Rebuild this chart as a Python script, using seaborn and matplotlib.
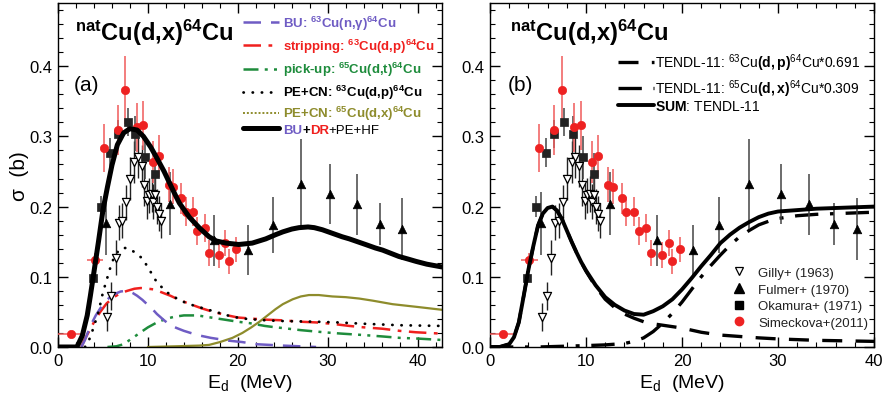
import matplotlib
matplotlib.use("Agg")
import matplotlib.pyplot as plt
import seaborn as sns
from matplotlib.lines import Line2D
from matplotlib.legend import Legend
from matplotlib.ticker import MultipleLocator, FormatStrFormatter

# ---------------- experimental data ----------------
sim_E = [1.4, 4.1, 5.1, 6.7, 7.5, 8.8, 9.5, 10.6, 11.2, 12.3, 12.8, 13.7, 14.2, 15.0, 15.5, 16.3, 16.8, 17.9, 18.6, 19.0, 19.8]
sim_s = [0.019, 0.124, 0.283, 0.309, 0.366, 0.313, 0.316, 0.263, 0.272, 0.231, 0.228, 0.212, 0.193, 0.193, 0.165, 0.170, 0.134, 0.131, 0.148, 0.122, 0.139]
sim_dE = [1.4, 0.85, 0.35, 0.35, 0.3, 0.3, 0.3, 0.3, 0.3, 0.3, 0.3, 0.3, 0.3, 0.3, 0.3, 0.3, 0.3, 0.3, 0.3, 0.3, 0.3]
sim_ds = [0.002, 0.01, 0.034, 0.035, 0.048, 0.035, 0.035, 0.03, 0.03, 0.025, 0.025, 0.022, 0.02, 0.02, 0.02, 0.02, 0.018, 0.018, 0.018, 0.018, 0.018]

oka_E = [3.9, 4.75, 5.8, 6.65, 7.75, 8.6, 9.7, 10.8]
oka_s = [0.098, 0.200, 0.277, 0.304, 0.320, 0.304, 0.270, 0.246]
oka_ds = [0.01, 0.015, 0.02, 0.02, 0.02, 0.025, 0.03, 0.03]

gil_E = [5.4, 5.9, 6.4, 6.8, 7.15, 7.6, 8.0, 8.5, 8.9, 9.3, 9.6, 9.9, 10.1, 10.4, 10.6, 10.8, 11.0, 11.2, 11.5]
gil_s = [0.043, 0.072, 0.127, 0.177, 0.180, 0.206, 0.240, 0.263, 0.271, 0.258, 0.231, 0.208, 0.216, 0.218, 0.207, 0.217, 0.200, 0.190, 0.180]
gil_ds = [0.02, 0.02, 0.025, 0.025, 0.025, 0.025, 0.03, 0.03, 0.03, 0.03, 0.03, 0.025, 0.025, 0.025, 0.025, 0.025, 0.025, 0.025, 0.025]

ful_E = [5.3, 12.5, 17.4, 21.1, 23.9, 27.0, 30.3, 33.2, 35.8, 38.2]
ful_s = [0.176, 0.204, 0.152, 0.138, 0.174, 0.232, 0.218, 0.203, 0.175, 0.168]
ful_ds = [0.045, 0.045, 0.036, 0.036, 0.04, 0.064, 0.043, 0.043, 0.03, 0.044]

# ---------------- model curves, panel (a) ----------------
tot_E = [0, 1.5, 2.1, 2.7, 3.25, 3.6, 4.0, 4.5, 5.0, 5.5, 6.0, 6.6, 7.3, 8.0, 8.8, 9.5, 10.3, 11.0, 11.8, 12.5, 13.1, 13.5, 14.6, 15.7, 16.8, 17.6, 18.7, 20.1, 21.6, 23.1, 24.2, 25.0, 26.0, 26.8, 27.8, 28.5, 29.4, 30.5, 31.6, 32.4, 34.2, 35.3, 36.1, 37.9, 39.0, 39.8, 41.0, 42.7]
tot_s = [0, 0, 0.0, 0.016, 0.045, 0.073, 0.107, 0.15, 0.195, 0.228, 0.259, 0.288, 0.305, 0.311, 0.309, 0.300, 0.285, 0.269, 0.25, 0.231, 0.215, 0.205, 0.185, 0.17, 0.157, 0.151, 0.148, 0.146, 0.148, 0.154, 0.16, 0.164, 0.168, 0.170, 0.171, 0.170, 0.167, 0.162, 0.157, 0.154, 0.146, 0.141, 0.138, 0.129, 0.125, 0.122, 0.118, 0.114]

bu_E = [2.6, 3.0, 3.6, 4.2, 4.7, 5.3, 5.85, 6.4, 6.95, 7.5, 7.8, 8.3, 8.8, 9.4, 9.9, 10.5, 11.0, 11.8, 12.5, 13.2, 14.0, 15.5, 17.0, 19.0, 20.5, 22.0, 25.0, 28.7]
bu_s = [0.0, 0.01, 0.03, 0.045, 0.055, 0.065, 0.072, 0.076, 0.079, 0.080, 0.080, 0.077, 0.073, 0.067, 0.061, 0.054, 0.047, 0.038, 0.031, 0.027, 0.023, 0.017, 0.013, 0.009, 0.007, 0.004, 0.002, 0.0]

st_E = [2.6, 2.9, 3.6, 4.2, 4.7, 5.4, 6.2, 7.0, 7.7, 8.5, 9.2, 10.0, 10.7, 11.5, 12.5, 13.5, 14.7, 16.0, 17.0, 18.5, 20.0, 21.0, 23.0, 25.0, 27.0, 28.7, 30.5, 32.4, 34.0, 36.1, 38.0, 39.8, 42.7]
st_s = [0.0, 0.009, 0.026, 0.04, 0.05, 0.062, 0.071, 0.077, 0.080, 0.083, 0.084, 0.083, 0.082, 0.078, 0.073, 0.067, 0.061, 0.055, 0.051, 0.046, 0.042, 0.041, 0.039, 0.038, 0.036, 0.035, 0.033, 0.030, 0.028, 0.026, 0.023, 0.021, 0.019]

pu_E = [5.5, 6.5, 7.3, 8.2, 9.2, 10.0, 11.0, 12.0, 12.9, 14.0, 14.7, 15.5, 17.0, 18.5, 20.0, 21.3, 23.0, 24.2, 25.0, 27.0, 28.7, 30.5, 31.6, 34.0, 36.1, 38.0, 40.0, 42.7]
pu_s = [0.0, 0.001, 0.004, 0.012, 0.021, 0.028, 0.035, 0.040, 0.043, 0.045, 0.045, 0.045, 0.042, 0.039, 0.036, 0.034, 0.030, 0.028, 0.027, 0.024, 0.022, 0.020, 0.019, 0.017, 0.015, 0.013, 0.012, 0.010]

pe63_E = [3.0, 3.3, 3.7, 4.0, 4.4, 4.7, 5.0, 5.4, 6.0, 6.6, 7.1, 7.7, 8.4, 9.4, 10.3, 11.0, 12.1, 13.6, 15.1, 17.0, 19.4, 21.0, 23.1, 25.0, 28.7, 31.1, 34.2, 38.0, 42.7]
pe63_s = [0.0, 0.005, 0.018, 0.030, 0.045, 0.061, 0.078, 0.095, 0.121, 0.135, 0.141, 0.141, 0.136, 0.126, 0.107, 0.092, 0.078, 0.066, 0.059, 0.052, 0.043, 0.040, 0.038, 0.037, 0.036, 0.035, 0.033, 0.031, 0.030]

pe65_E = [10.0, 13.0, 15.7, 16.8, 18.0, 19.4, 20.5, 21.5, 22.4, 23.1, 24.2, 25.0, 26.1, 27.0, 27.9, 29.0, 30.5, 32.0, 33.5, 35.0, 37.2, 40.0, 42.7]
pe65_s = [0.0, 0.001, 0.002, 0.003, 0.007, 0.013, 0.020, 0.028, 0.036, 0.043, 0.054, 0.061, 0.068, 0.072, 0.074, 0.074, 0.072, 0.071, 0.069, 0.066, 0.061, 0.057, 0.053]

# ---------------- model curves, panel (b) ----------------
sum_E = [0, 1.0, 2.0, 2.5, 3.0, 3.5, 4.0, 4.5, 5.0, 5.5, 6.0, 6.5, 7.0, 7.5, 8.0, 8.5, 9.0, 9.5, 10.0, 11.0, 12.0, 13.0, 14.0, 15.0, 16.0, 17.0, 18.0, 19.0, 20.0, 21.0, 22.0, 23.0, 24.0, 25.0, 26.0, 27.0, 28.0, 29.0, 30.0, 31.0, 32.0, 34.0, 36.0, 38.0, 40.0]
sum_s = [0, 0, 0.004, 0.014, 0.035, 0.072, 0.11, 0.143, 0.173, 0.19, 0.198, 0.2, 0.194, 0.182, 0.166, 0.15, 0.135, 0.121, 0.109, 0.088, 0.071, 0.06, 0.052, 0.047, 0.046, 0.051, 0.058, 0.068, 0.082, 0.098, 0.115, 0.131, 0.148, 0.16, 0.170, 0.178, 0.185, 0.19, 0.193, 0.194, 0.195, 0.197, 0.198, 0.199, 0.2]

dp_E = [0, 1.0, 2.0, 2.5, 3.0, 3.5, 4.0, 4.5, 5.0, 5.5, 6.0, 6.5, 7.0, 7.5, 8.0, 8.5, 9.0, 9.5, 10.0, 11.0, 12.0, 13.0, 14.0, 15.0, 16.0, 17.0, 18.0, 19.0, 20.0, 22.0, 24.0, 26.0, 28.0, 30.0, 32.0, 34.0, 36.0, 38.0, 40.0]
dp_s = [0, 0, 0.004, 0.014, 0.035, 0.072, 0.11, 0.143, 0.173, 0.19, 0.198, 0.2, 0.194, 0.182, 0.166, 0.15, 0.135, 0.121, 0.108, 0.086, 0.068, 0.056, 0.047, 0.041, 0.036, 0.033, 0.031, 0.029, 0.027, 0.021, 0.017, 0.015, 0.013, 0.0115, 0.0105, 0.0095, 0.009, 0.0085, 0.008]

dx_E = [0, 5, 10, 12, 14, 15, 16, 17, 18, 19, 20, 21, 22, 23, 24, 25, 26, 27, 28, 29, 30, 32, 34, 36, 38, 40]
dx_s = [0, 0, 0.002, 0.003, 0.005, 0.008, 0.013, 0.022, 0.034, 0.048, 0.064, 0.082, 0.1, 0.116, 0.131, 0.145, 0.157, 0.166, 0.174, 0.179, 0.183, 0.187, 0.189, 0.19, 0.191, 0.192]

# ---------------- styling ----------------
sns.set_theme(style="ticks")
plt.rcParams["font.family"] = ["Liberation Sans", "DejaVu Sans"]
plt.rcParams["mathtext.fontset"] = "custom"
plt.rcParams["mathtext.rm"] = "Liberation Sans"
plt.rcParams["mathtext.it"] = "Liberation Sans:italic"
plt.rcParams["mathtext.bf"] = "Liberation Sans:bold"

C_BU = "#6f5cc4"
C_ST = "#f0201e"
C_PU = "#1e8c3c"
C_OL = "#8e8c2c"
C_RED = "#ee2222"
C_REDBAR = "#f05a5a"
C_GREY = "#444444"

fig = plt.figure(figsize=(8.85, 4.06), dpi=100)
axA = fig.add_axes([58 / 885, 58 / 406, 384 / 885, 344 / 406])
axB = fig.add_axes([490 / 885, 58 / 406, 384 / 885, 344 / 406])


def style(ax, xmax):
    ax.set_xlim(0, xmax)
    ax.set_ylim(0, 0.49)
    ax.xaxis.set_major_locator(MultipleLocator(10))
    ax.xaxis.set_minor_locator(MultipleLocator(2))
    ax.yaxis.set_major_locator(MultipleLocator(0.1))
    ax.yaxis.set_minor_locator(MultipleLocator(0.02))
    ax.yaxis.set_major_formatter(FormatStrFormatter("%.1f"))
    ax.tick_params(which="both", direction="in", top=True, right=True,
                   colors="black", labelsize=12, pad=4)
    ax.tick_params(which="major", length=7, width=1)
    ax.tick_params(which="minor", length=3.5, width=0.8)
    for sp in ax.spines.values():
        sp.set_linewidth(1.0)
        sp.set_color("black")
    ax.set_xlabel(r"E$_{\rm d}$  (MeV)", fontsize=14, color="black", labelpad=3)


def curve(ax, E, s, **kw):
    sns.lineplot(x=E, y=s, ax=ax, errorbar=None, sort=False, legend=False, **kw)


def data(ax):
    ax.errorbar(ful_E, ful_s, yerr=ful_ds, fmt="none", ecolor=C_GREY, elinewidth=1.1, capsize=0, zorder=4)
    ax.errorbar(gil_E, gil_s, yerr=gil_ds, fmt="none", ecolor="#222222", elinewidth=1.0, capsize=0, zorder=4)
    ax.errorbar(oka_E, oka_s, yerr=oka_ds, fmt="none", ecolor=C_GREY, elinewidth=1.1, capsize=0, zorder=4)
    ax.errorbar(sim_E, sim_s, yerr=sim_ds, xerr=sim_dE, fmt="none", ecolor=C_REDBAR, elinewidth=1.1, capsize=0, zorder=4)
    sns.scatterplot(x=ful_E, y=ful_s, ax=ax, marker="^", s=38, color="black", edgecolor="black", linewidth=0.5, zorder=5, legend=False)
    sns.scatterplot(x=gil_E, y=gil_s, ax=ax, marker="v", s=34, color="white", edgecolor="black", linewidth=0.9, zorder=5, legend=False)
    sns.scatterplot(x=oka_E, y=oka_s, ax=ax, marker="s", s=34, color="#222222", edgecolor="#222222", linewidth=0.5, zorder=5, legend=False)
    sns.scatterplot(x=sim_E, y=sim_s, ax=ax, marker="o", s=36, color=C_RED, edgecolor=C_RED, linewidth=0.5, zorder=6, legend=False)


def row(ax, handle, label, x, y, fs, color="black", weight="normal", hl=2.7, tp=0.3):
    leg = Legend(ax, [handle], [label], loc="center left", bbox_to_anchor=(x, y),
                 bbox_transform=ax.transAxes, frameon=False, fontsize=fs,
                 handlelength=hl, handletextpad=tp, borderpad=0, borderaxespad=0)
    t = leg.get_texts()[0]
    t.set_color(color)
    t.set_fontweight(weight)
    ax.add_artist(leg)
    return leg


ls_bu = (0, (7, 4))
ls_st = (0, (7, 3, 1.5, 3))
ls_pu = (0, (6, 2.5, 1.2, 2.5, 1.2, 2.5))
ls_pe63 = (0, (0.1, 3.2))
ls_pe65 = (0, (1.2, 0.8))

# ---------------- panel (a) ----------------
style(axA, 42.7)
curve(axA, pe65_E, pe65_s, color=C_OL, linewidth=1.6, linestyle="-")
curve(axA, pu_E, pu_s, color=C_PU, linewidth=1.8, linestyle=ls_pu)
curve(axA, st_E, st_s, color=C_ST, linewidth=1.8, linestyle=ls_st)
curve(axA, bu_E, bu_s, color=C_BU, linewidth=1.8, linestyle=ls_bu)
curve(axA, pe63_E, pe63_s, color="black", linewidth=2.0, linestyle=ls_pe63, dash_capstyle="round")
data(axA)
curve(axA, tot_E, tot_s, color="black", linewidth=3.6, linestyle="-", zorder=7)
axA.set_ylabel("σ  (b)", fontsize=15, color="black", labelpad=0)

axA.text(0.044, 0.893, r"$^{\mathbf{nat}}$Cu(d,x)$^{\mathbf{64}}$Cu", transform=axA.transAxes,
         fontsize=17, fontweight="bold", va="baseline", ha="left", color="black")
axA.text(0.042, 0.748, "(a)", transform=axA.transAxes, fontsize=15, va="baseline", ha="left", color="black")

fsA = 9.5
xA = 0.483
row(axA, Line2D([], [], color=C_BU, lw=1.8, ls=ls_bu),
    r"BU: $^{\mathbf{63}}$Cu(n,$\mathbf{\gamma}$)$^{\mathbf{64}}$Cu", xA, 0.942, fsA, C_BU, "bold")
row(axA, Line2D([], [], color=C_ST, lw=1.8, ls=ls_st),
    r"stripping: $^{\mathbf{63}}$Cu(d,p)$^{\mathbf{64}}$Cu", xA, 0.875, fsA, C_ST, "bold")
row(axA, Line2D([], [], color=C_PU, lw=1.8, ls=ls_pu),
    r"pick-up: $^{\mathbf{65}}$Cu(d,t)$^{\mathbf{64}}$Cu", xA, 0.808, fsA, C_PU, "bold")
row(axA, Line2D([], [], color="black", lw=2.0, ls=ls_pe63, dash_capstyle="round"),
    r"PE+CN: $^{\mathbf{63}}$Cu(d,p)$^{\mathbf{64}}$Cu", xA, 0.741, fsA, "black", "bold")
row(axA, Line2D([], [], color=C_OL, lw=1.4, ls=(0, (1, 1))),
    r"PE+CN: $^{\mathbf{65}}$Cu(d,x)$^{\mathbf{64}}$Cu", xA, 0.680, fsA, C_OL, "bold")
last = row(axA, Line2D([], [], color="black", lw=3.6),
           "BU", xA, 0.631, fsA, C_BU, "bold")
prev = last.get_texts()[0]
for txt, col, w in [("+", "black", "bold"), ("DR", C_ST, "bold"), ("+PE+HF", "black", "normal")]:
    prev = axA.annotate(txt, xy=(1, 0), xycoords=prev, va="bottom", ha="left",
                        fontsize=fsA, color=col, fontweight=w, zorder=8)

# ---------------- panel (b) ----------------
style(axB, 40)
curve(axB, dx_E, dx_s, color="black", linewidth=2.4, linestyle=(0, (7, 3.5, 1.2, 3.5)))
curve(axB, dp_E, dp_s, color="black", linewidth=2.4, linestyle=(0, (6, 4)))
data(axB)
curve(axB, sum_E, sum_s, color="black", linewidth=2.8, linestyle="-", zorder=7)

axB.text(0.052, 0.893, r"$^{\mathbf{nat}}$Cu(d,x)$^{\mathbf{64}}$Cu", transform=axB.transAxes,
         fontsize=17, fontweight="bold", va="baseline", ha="left", color="black")
axB.text(0.047, 0.748, "(b)", transform=axB.transAxes, fontsize=15, va="baseline", ha="left", color="black")

fsB = 10
xB = 0.333
row(axB, Line2D([], [], color="black", lw=2.4, ls=(0, (6, 4))),
    r"TENDL-11: $^{63}$Cu$\mathbf{(d,p)}$$^{64}$Cu*0.691", xB, 0.828, fsB, hl=2.6, tp=0.1)
row(axB, Line2D([], [], color="black", lw=2.4, ls=(0, (7, 3.5, 1.2, 3.5))),
    r"TENDL-11: $^{65}$Cu$\mathbf{(d,x)}$$^{64}$Cu*0.309", xB, 0.753, fsB, hl=2.6, tp=0.1)
row(axB, Line2D([], [], color="black", lw=2.8),
    r"$\mathbf{SUM}$: TENDL-11", xB, 0.700, fsB, hl=2.6, tp=0.1)

mk = [Line2D([], [], ls="none", marker="v", markersize=6, markerfacecolor="white", markeredgecolor="black", markeredgewidth=0.9),
      Line2D([], [], ls="none", marker="^", markersize=6.5, color="black"),
      Line2D([], [], ls="none", marker="s", markersize=5.5, color="black"),
      Line2D([], [], ls="none", marker="o", markersize=6, color=C_RED)]
labs = ["Gilly+ (1963)", "Fulmer+ (1970)", "Okamura+ (1971)", "Simeckova+(2011)"]
legB = Legend(axB, mk, labs, loc="center left", bbox_to_anchor=(0.630, 0.143),
              bbox_transform=axB.transAxes, frameon=False, fontsize=9.5,
              handlelength=1.0, handletextpad=1.0, borderpad=0, borderaxespad=0,
              labelspacing=0.33)
for t in legB.get_texts():
    t.set_color("#222222")
axB.add_artist(legB)

fig.savefig("out.png", dpi=100)
